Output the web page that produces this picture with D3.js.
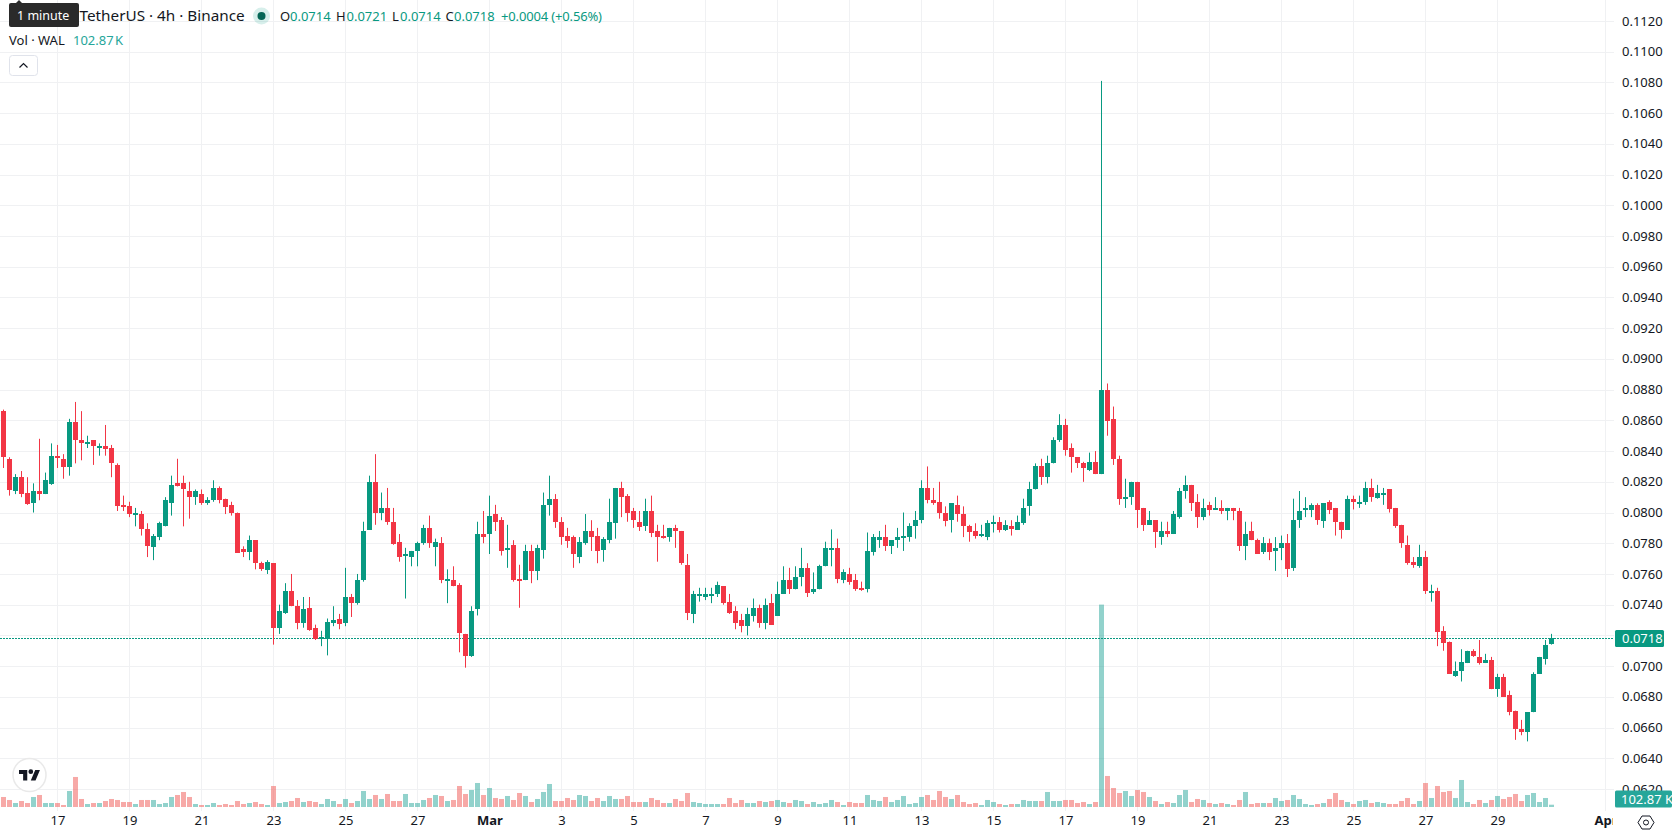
<!DOCTYPE html>
<html>
<head>
<meta charset="utf-8">
<title>WAL / TetherUS 4h</title>
<script src="https://cdn.jsdelivr.net/npm/d3@7/dist/d3.min.js"></script>
<style>
  html, body { margin: 0; padding: 0; background: #fff; overflow: hidden; }
  svg { display: block; font-family: "Noto Sans", sans-serif; }
  .axis path, .axis line { display: none; }
  .axis text { fill: #131722; font-size: 13px; font-family: "Noto Sans", sans-serif; }
</style>
</head>
<body>
<svg id="chart" width="1678" height="835"></svg>
<script>
// 4h candles, first bar opens 15 Feb 12:00 UTC
const firstBarTime = new Date(Date.UTC(2026, 1, 15, 12));
const opens = [0.0866,0.0835,0.0814,0.0823,0.0813,0.0806,0.0814,0.0812,0.0819,0.0837,0.0835,0.0830,0.0859,0.0847,0.0845,0.0847,0.0842,0.0843,0.0842,0.0831,0.0805,0.0804,0.0799,0.0799,0.0789,0.0778,0.0784,0.0791,0.0806,0.0819,0.0819,0.0814,0.0810,0.0812,0.0806,0.0808,0.0816,0.0809,0.0805,0.0800,0.0776,0.0774,0.0782,0.0767,0.0763,0.0767,0.0725,0.0735,0.0749,0.0739,0.0728,0.0738,0.0725,0.0718,0.0718,0.0728,0.0731,0.0728,0.0745,0.0741,0.0756,0.0789,0.0820,0.0800,0.0803,0.0794,0.0781,0.0772,0.0771,0.0775,0.0780,0.0790,0.0778,0.0780,0.0756,0.0756,0.0753,0.0721,0.0707,0.0737,0.0786,0.0786,0.0799,0.0795,0.0776,0.0779,0.0757,0.0756,0.0775,0.0762,0.0776,0.0805,0.0809,0.0794,0.0785,0.0784,0.0771,0.0780,0.0788,0.0785,0.0776,0.0782,0.0793,0.0816,0.0811,0.0801,0.0794,0.0791,0.0801,0.0788,0.0785,0.0784,0.0790,0.0788,0.0766,0.0734,0.0746,0.0745,0.0746,0.0747,0.0752,0.0742,0.0736,0.0730,0.0726,0.0733,0.0738,0.0728,0.0741,0.0733,0.0747,0.0756,0.0750,0.0758,0.0764,0.0748,0.0750,0.0765,0.0776,0.0777,0.0756,0.0760,0.0756,0.0751,0.0750,0.0774,0.0782,0.0784,0.0778,0.0782,0.0784,0.0784,0.0791,0.0795,0.0816,0.0808,0.0807,0.0800,0.0795,0.0805,0.0799,0.0791,0.0788,0.0785,0.0784,0.0793,0.0794,0.0789,0.0791,0.0789,0.0793,0.0804,0.0815,0.0830,0.0823,0.0832,0.0847,0.0857,0.0842,0.0836,0.0832,0.0828,0.0833,0.0825,0.0880,0.0861,0.0835,0.0809,0.0810,0.0820,0.0803,0.0792,0.0795,0.0784,0.0788,0.0786,0.0797,0.0814,0.0818,0.0807,0.0797,0.0805,0.0802,0.0803,0.0801,0.0803,0.0801,0.0778,0.0788,0.0782,0.0774,0.0780,0.0775,0.0777,0.0780,0.0764,0.0795,0.0802,0.0802,0.0805,0.0794,0.0807,0.0803,0.0794,0.0789,0.0809,0.0806,0.0807,0.0816,0.0810,0.0812,0.0815,0.0803,0.0792,0.0779,0.0768,0.0765,0.0771,0.0748,0.0749,0.0723,0.0716,0.0694,0.0697,0.0702,0.0710,0.0706,0.0702,0.0704,0.0685,0.0693,0.0681,0.0671,0.0659,0.0657,0.0670,0.0695,0.0705,0.0714];
const highs = [0.0867,0.0836,0.0825,0.0827,0.0823,0.0819,0.0848,0.0826,0.0845,0.0844,0.0838,0.0861,0.0872,0.0866,0.0850,0.0847,0.0845,0.0857,0.0844,0.0832,0.0811,0.0807,0.0803,0.0801,0.0793,0.0786,0.0794,0.0810,0.0824,0.0835,0.0824,0.0820,0.0815,0.0815,0.0810,0.0821,0.0817,0.0809,0.0807,0.0800,0.0778,0.0785,0.0782,0.0768,0.0769,0.0767,0.0740,0.0754,0.0760,0.0743,0.0745,0.0745,0.0727,0.0723,0.0731,0.0739,0.0734,0.0764,0.0747,0.0760,0.0794,0.0824,0.0838,0.0813,0.0816,0.0803,0.0786,0.0777,0.0775,0.0781,0.0792,0.0798,0.0783,0.0784,0.0763,0.0765,0.0754,0.0721,0.0739,0.0794,0.0801,0.0811,0.0805,0.0797,0.0792,0.0782,0.0766,0.0779,0.0779,0.0779,0.0813,0.0824,0.0812,0.0797,0.0790,0.0785,0.0784,0.0799,0.0795,0.0790,0.0784,0.0809,0.0816,0.0820,0.0812,0.0803,0.0801,0.0809,0.0811,0.0792,0.0792,0.0790,0.0792,0.0788,0.0773,0.0749,0.0751,0.0751,0.0751,0.0755,0.0752,0.0747,0.0739,0.0734,0.0738,0.0744,0.0740,0.0744,0.0747,0.0755,0.0765,0.0764,0.0765,0.0777,0.0767,0.0761,0.0766,0.0781,0.0789,0.0783,0.0763,0.0764,0.0760,0.0755,0.0787,0.0786,0.0788,0.0792,0.0782,0.0790,0.0800,0.0793,0.0801,0.0821,0.0830,0.0816,0.0820,0.0804,0.0806,0.0811,0.0804,0.0792,0.0793,0.0792,0.0795,0.0798,0.0797,0.0795,0.0795,0.0798,0.0809,0.0820,0.0832,0.0835,0.0837,0.0849,0.0864,0.0861,0.0845,0.0836,0.0833,0.0839,0.0840,0.1081,0.0884,0.0869,0.0837,0.0822,0.0820,0.0820,0.0803,0.0801,0.0795,0.0794,0.0794,0.0801,0.0816,0.0824,0.0818,0.0812,0.0809,0.0807,0.0810,0.0808,0.0803,0.0803,0.0803,0.0794,0.0794,0.0783,0.0784,0.0783,0.0784,0.0785,0.0786,0.0809,0.0814,0.0810,0.0806,0.0806,0.0806,0.0808,0.0803,0.0794,0.0811,0.0811,0.0811,0.0820,0.0822,0.0818,0.0816,0.0815,0.0803,0.0792,0.0785,0.0771,0.0779,0.0775,0.0753,0.0751,0.0726,0.0716,0.0703,0.0711,0.0710,0.0711,0.0717,0.0708,0.0706,0.0695,0.0695,0.0684,0.0671,0.0665,0.0670,0.0696,0.0706,0.0717,0.0721];
const lows = [0.0829,0.0811,0.0812,0.0810,0.0805,0.0800,0.0808,0.0812,0.0818,0.0829,0.0822,0.0824,0.0832,0.0834,0.0842,0.0831,0.0837,0.0837,0.0823,0.0801,0.0801,0.0797,0.0791,0.0785,0.0771,0.0769,0.0782,0.0791,0.0798,0.0817,0.0791,0.0796,0.0805,0.0805,0.0805,0.0807,0.0806,0.0799,0.0798,0.0774,0.0771,0.0769,0.0763,0.0762,0.0760,0.0714,0.0721,0.0734,0.0739,0.0724,0.0725,0.0723,0.0717,0.0713,0.0707,0.0726,0.0724,0.0726,0.0732,0.0740,0.0755,0.0789,0.0792,0.0795,0.0792,0.0779,0.0768,0.0744,0.0765,0.0765,0.0779,0.0777,0.0765,0.0754,0.0741,0.0752,0.0709,0.0699,0.0706,0.0733,0.0780,0.0773,0.0788,0.0772,0.0764,0.0755,0.0738,0.0756,0.0754,0.0756,0.0770,0.0798,0.0790,0.0779,0.0777,0.0764,0.0767,0.0779,0.0775,0.0767,0.0768,0.0780,0.0783,0.0797,0.0794,0.0790,0.0788,0.0788,0.0784,0.0768,0.0783,0.0781,0.0777,0.0766,0.0730,0.0728,0.0742,0.0743,0.0741,0.0745,0.0740,0.0734,0.0724,0.0722,0.0720,0.0729,0.0725,0.0724,0.0727,0.0733,0.0747,0.0747,0.0750,0.0752,0.0745,0.0747,0.0750,0.0765,0.0765,0.0754,0.0754,0.0753,0.0749,0.0749,0.0748,0.0772,0.0777,0.0775,0.0773,0.0777,0.0775,0.0781,0.0783,0.0793,0.0806,0.0805,0.0796,0.0791,0.0787,0.0794,0.0784,0.0781,0.0783,0.0784,0.0782,0.0787,0.0787,0.0788,0.0785,0.0789,0.0792,0.0798,0.0815,0.0818,0.0819,0.0832,0.0846,0.0837,0.0826,0.0829,0.0820,0.0827,0.0825,0.0825,0.0850,0.0831,0.0805,0.0803,0.0805,0.0790,0.0788,0.0792,0.0777,0.0779,0.0784,0.0786,0.0796,0.0809,0.0801,0.0790,0.0795,0.0798,0.0802,0.0799,0.0795,0.0795,0.0775,0.0769,0.0782,0.0773,0.0773,0.0769,0.0762,0.0769,0.0758,0.0762,0.0790,0.0797,0.0797,0.0792,0.0790,0.0799,0.0785,0.0783,0.0789,0.0802,0.0803,0.0805,0.0807,0.0809,0.0805,0.0800,0.0790,0.0777,0.0766,0.0764,0.0764,0.0747,0.0742,0.0713,0.0710,0.0695,0.0693,0.0690,0.0702,0.0706,0.0701,0.0702,0.0685,0.0680,0.0680,0.0668,0.0652,0.0655,0.0651,0.0670,0.0695,0.0701,0.0714];
const closes = [0.0836,0.0815,0.0823,0.0812,0.0806,0.0814,0.0812,0.0821,0.0837,0.0836,0.0830,0.0859,0.0847,0.0845,0.0846,0.0843,0.0843,0.0841,0.0832,0.0804,0.0804,0.0799,0.0800,0.0789,0.0778,0.0785,0.0793,0.0808,0.0818,0.0817,0.0815,0.0810,0.0814,0.0806,0.0808,0.0816,0.0808,0.0804,0.0800,0.0774,0.0774,0.0782,0.0767,0.0763,0.0768,0.0725,0.0736,0.0749,0.0739,0.0728,0.0737,0.0724,0.0718,0.0719,0.0729,0.0730,0.0728,0.0745,0.0741,0.0756,0.0788,0.0820,0.0800,0.0803,0.0794,0.0780,0.0771,0.0773,0.0775,0.0780,0.0790,0.0780,0.0781,0.0756,0.0757,0.0752,0.0722,0.0707,0.0736,0.0786,0.0784,0.0798,0.0794,0.0775,0.0777,0.0756,0.0756,0.0775,0.0762,0.0777,0.0805,0.0809,0.0794,0.0784,0.0782,0.0773,0.0781,0.0788,0.0784,0.0775,0.0783,0.0794,0.0816,0.0810,0.0800,0.0795,0.0791,0.0801,0.0787,0.0784,0.0784,0.0790,0.0788,0.0767,0.0735,0.0747,0.0747,0.0747,0.0747,0.0753,0.0741,0.0735,0.0728,0.0726,0.0734,0.0738,0.0728,0.0740,0.0727,0.0747,0.0756,0.0750,0.0758,0.0764,0.0748,0.0750,0.0765,0.0777,0.0777,0.0757,0.0761,0.0755,0.0750,0.0750,0.0775,0.0784,0.0784,0.0778,0.0782,0.0784,0.0785,0.0791,0.0795,0.0816,0.0808,0.0806,0.0800,0.0795,0.0806,0.0799,0.0791,0.0787,0.0785,0.0786,0.0793,0.0794,0.0789,0.0792,0.0789,0.0794,0.0803,0.0815,0.0830,0.0823,0.0832,0.0847,0.0857,0.0841,0.0836,0.0832,0.0829,0.0833,0.0825,0.0880,0.0860,0.0835,0.0809,0.0810,0.0820,0.0802,0.0792,0.0795,0.0787,0.0788,0.0786,0.0799,0.0814,0.0818,0.0806,0.0797,0.0803,0.0802,0.0803,0.0801,0.0803,0.0801,0.0778,0.0786,0.0782,0.0773,0.0780,0.0774,0.0777,0.0780,0.0763,0.0795,0.0801,0.0803,0.0805,0.0795,0.0806,0.0802,0.0794,0.0789,0.0809,0.0807,0.0807,0.0816,0.0810,0.0813,0.0813,0.0802,0.0791,0.0780,0.0767,0.0766,0.0771,0.0749,0.0749,0.0722,0.0715,0.0695,0.0697,0.0703,0.0710,0.0707,0.0702,0.0704,0.0685,0.0693,0.0680,0.0670,0.0659,0.0657,0.0670,0.0695,0.0706,0.0714,0.0718];
// Volume in thousands of WAL
const volumes = [450,315,180,270,180,450,540,180,180,180,90,720,1350,360,135,180,180,270,360,315,225,225,135,315,315,315,135,180,450,540,675,450,135,90,90,180,90,135,90,270,135,180,225,135,90,945,180,225,270,405,225,270,225,135,360,270,135,360,180,270,720,360,540,360,585,270,270,585,180,180,315,405,540,495,270,315,945,585,765,1080,540,855,405,360,495,315,630,495,225,360,675,1035,270,270,405,315,540,495,270,405,270,495,360,360,495,225,225,225,405,315,180,180,360,270,630,225,180,135,135,135,135,405,180,315,180,180,270,225,270,315,225,180,315,270,135,225,135,180,315,225,90,225,180,180,540,315,270,450,225,315,495,135,180,450,540,315,720,450,360,540,225,135,180,90,315,225,135,90,135,135,315,270,270,270,675,270,270,315,315,180,225,135,225,9105,1395,855,630,720,495,765,675,450,270,135,225,180,540,765,225,360,315,180,135,180,135,90,315,675,135,180,180,180,405,270,315,540,360,135,90,135,180,360,630,315,225,135,270,315,180,225,180,135,135,270,405,135,270,1080,405,945,675,720,405,1215,225,135,315,180,315,495,360,450,585,270,540,630,225,405,102.87];

const priceTicks = [0.062,0.064,0.066,0.068,0.070,0.072,0.074,0.076,0.078,0.080,0.082,0.084,0.086,0.088,0.090,0.092,0.094,0.096,0.098,0.100,0.102,0.104,0.106,0.108,0.110,0.112];
const dateTicks = ['2026-02-17','2026-02-19','2026-02-21','2026-02-23','2026-02-25','2026-02-27','2026-03-01','2026-03-03','2026-03-05','2026-03-07','2026-03-09','2026-03-11','2026-03-13','2026-03-15','2026-03-17','2026-03-19','2026-03-21','2026-03-23','2026-03-25','2026-03-27','2026-03-29','2026-04-01'];

const times = opens.map((_, i) => d3.utcHour.offset(firstBarTime, 4 * i));
const upColor = '#089981', downColor = '#f23645';
const volColor = '#26a69a';
const volUp = 'rgba(38,166,154,0.5)', volDown = 'rgba(239,83,80,0.5)';
const gridColor = '#f0f1f3', inkColor = '#131722';
const paneRight = 1614, paneBottom = 811;

const x = d3.scaleUtc()
  .domain([firstBarTime, d3.utcHour.offset(firstBarTime, 4 * 268)])
  .range([3.5, 3.5 + 6 * 268]);
const y = d3.scaleLinear().domain([0.062, 0.112]).range([789, 21]);
const yVol = d3.scaleLinear().domain([0, 9105]).range([807, 604.6]);

const svg = d3.select('#chart');
const tickDates = dateTicks.map(d => new Date(d + 'T00:00:00Z'));

// Background grid
svg.append('g').selectAll('line').data(priceTicks).join('line')
  .attr('x1', 0).attr('x2', paneRight)
  .attr('y1', d => Math.round(y(d)) + 0.5).attr('y2', d => Math.round(y(d)) + 0.5)
  .attr('stroke', gridColor);
svg.append('g').selectAll('line').data(tickDates).join('line')
  .attr('x1', d => x(d)).attr('x2', d => x(d))
  .attr('y1', 0).attr('y2', paneBottom)
  .attr('stroke', gridColor);

// Volume bars
svg.append('g').selectAll('rect').data(volumes).join('rect')
  .attr('x', (d, i) => x(times[i]) - 2.5)
  .attr('width', 5)
  .attr('y', d => yVol(d))
  .attr('height', d => yVol(0) - yVol(d))
  .attr('fill', (d, i) => closes[i] >= opens[i] ? volUp : volDown);

// Last price line, under the candles
const lastClose = closes[closes.length - 1];
svg.append('line')
  .attr('x1', 0).attr('x2', paneRight)
  .attr('y1', Math.round(y(lastClose)) + 0.5).attr('y2', Math.round(y(lastClose)) + 0.5)
  .attr('stroke', upColor).attr('stroke-dasharray', '2 1').attr('shape-rendering', 'crispEdges');

// Candles
const candle = svg.append('g').selectAll('g').data(opens).join('g')
  .attr('fill', (d, i) => closes[i] >= opens[i] ? upColor : downColor);
candle.append('rect')
  .attr('x', (d, i) => x(times[i]) - 0.5).attr('width', 1)
  .attr('y', (d, i) => y(highs[i]))
  .attr('height', (d, i) => y(lows[i]) - y(highs[i]));
candle.append('rect')
  .attr('x', (d, i) => x(times[i]) - 2.5).attr('width', 5)
  .attr('y', (d, i) => Math.round(y(Math.max(opens[i], closes[i]))))
  .attr('height', (d, i) => Math.max(1, Math.round(Math.abs(y(opens[i]) - y(closes[i])))));

// Price axis
const priceAxis = svg.append('g').attr('class', 'axis')
  .attr('transform', 'translate(1622,-0.5)')
  .call(d3.axisRight(y).tickValues(priceTicks).tickSize(0).tickPadding(0).tickFormat(d3.format('.4f')));
priceAxis.selectAll('text').attr('dy', '0.35em');

// Time axis, the April label runs under the price axis
svg.append('defs').append('clipPath').attr('id', 'timeClip')
  .append('rect').attr('x', 0).attr('y', 811).attr('width', 1613).attr('height', 24);
const timeAxis = svg.append('g').attr('class', 'axis')
  .attr('clip-path', 'url(#timeClip)')
  .append('g')
  .attr('transform', 'translate(0,816)')
  .call(d3.axisBottom(x).tickValues(tickDates).tickSize(0).tickPadding(0)
    .tickFormat(d => d.getUTCDate() === 1 ? d3.utcFormat('%b')(d) : String(d.getUTCDate())));
timeAxis.selectAll('text')
  .attr('dy', '0.71em')
  .attr('font-weight', d => d.getUTCDate() === 1 ? 700 : 400)
  .style('font-weight', d => d.getUTCDate() === 1 ? 700 : 400);

// Price and volume tags on the axis
function tag(x0, x1, yc, fill, label, textX) {
  const g = svg.append('g');
  g.append('rect').attr('x', x0).attr('y', yc - 8.5).attr('width', x1 - x0).attr('height', 17)
    .attr('rx', 1.5).attr('fill', fill);
  g.append('text').attr('x', textX).attr('y', yc).attr('dy', '0.35em')
    .attr('fill', '#fff').attr('font-size', 13).text(label);
}
tag(1615, 1664, y(lastClose), upColor, d3.format('.4f')(lastClose), 1622);
tag(1615, 1672, 799, volColor, '102.87 K', 1621);

// Legend
const legend = svg.append('g').attr('font-size', 13).attr('fill', inkColor);
legend.append('text').attr('x', 79.5).attr('y', 21).attr('font-size', 15.3).text('TetherUS · 4h · Binance');
legend.append('circle').attr('cx', 261.5).attr('cy', 16).attr('r', 8.5).attr('fill', 'rgba(8,153,129,0.16)');
legend.append('circle').attr('cx', 261.5).attr('cy', 16).attr('r', 4).attr('fill', '#056656');
const last = opens.length - 1;
[['O', 280, opens[last], 290], ['H', 336, highs[last], 346.5], ['L', 392, lows[last], 400], ['C', 445.5, closes[last], 454]]
  .forEach(([key, kx, value, vx]) => {
    legend.append('text').attr('x', kx).attr('y', 20.5).text(key);
    legend.append('text').attr('x', vx).attr('y', 20.5).attr('fill', upColor).text(d3.format('.4f')(value));
  });
legend.append('text').attr('x', 501).attr('y', 20.5).attr('fill', upColor).attr('textLength', 101).text('+0.0004 (+0.56%)');
legend.append('text').attr('x', 9).attr('y', 45).text('Vol · WAL');
legend.append('text').attr('x', 73).attr('y', 45).attr('fill', volColor).attr('word-spacing', -2).text('102.87 K');

// Collapse button
svg.append('rect').attr('x', 9.5).attr('y', 55.5).attr('width', 28).attr('height', 20).attr('rx', 3)
  .attr('fill', '#fff').attr('stroke', '#e0e3eb');
svg.append('path').attr('d', 'M19.5 67.5 L23.5 63.5 L27.5 67.5').attr('fill', 'none')
  .attr('stroke', inkColor).attr('stroke-width', 1.2);

// Tooltip over the symbol name
svg.append('path').attr('d', 'M15 4 L19 0 L23 4 Z').attr('fill', '#2a2a2a');
svg.append('rect').attr('x', 9).attr('y', 3).attr('width', 70).attr('height', 24).attr('rx', 2).attr('fill', '#2a2a2a');
svg.append('text').attr('x', 17).attr('y', 20).attr('font-size', 12.5).attr('fill', '#fff').text('1 minute');

// Watermark logo
svg.append('circle').attr('cx', 29.5).attr('cy', 775).attr('r', 16.5).attr('fill', '#fff').attr('stroke', '#e9e9e9').attr('stroke-width', 1.5);
const logo = svg.append('g').attr('transform', 'translate(19,767.6) scale(0.59)').attr('fill', '#131722');
logo.append('path').attr('d', 'M14 22H7V11H0V4h14v18zM28 22h-8l7.5-18h8L28 22z');
logo.append('circle').attr('cx', 20).attr('cy', 7).attr('r', 4);

// Scale settings icon
const gear = svg.append('g').attr('transform', 'translate(1646,822.5)').attr('fill', 'none').attr('stroke', inkColor);
gear.append('path').attr('d', 'M-8 0L-4 -6.5H4L8 0L4 6.5H-4Z');
gear.append('circle').attr('r', 2.5);
</script>
</body>
</html>
